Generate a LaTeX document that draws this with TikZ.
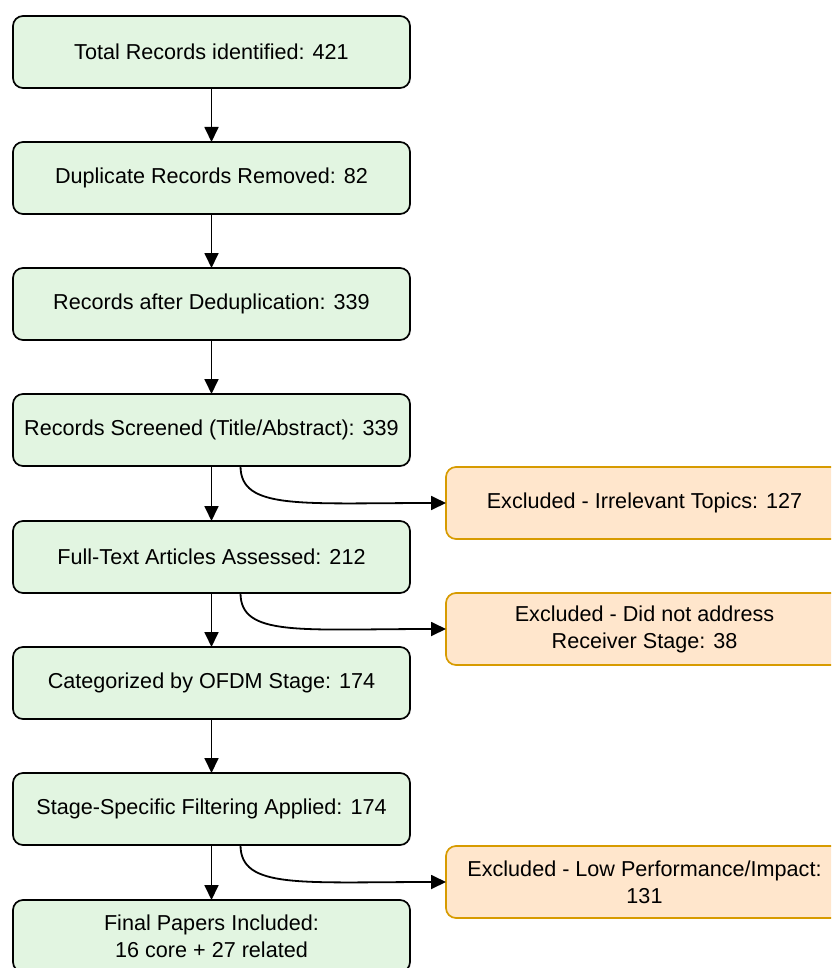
\documentclass[tikz,border=0pt]{standalone}
\usepackage{fontspec}
\setmainfont{Liberation Sans}
\usetikzlibrary{arrows.meta}
\definecolor{gfill}{HTML}{E2F5E1}
\definecolor{ofill}{HTML}{FFE6CC}
\definecolor{ostroke}{HTML}{D79B00}
\tikzset{
  box/.style={draw=black, fill=gfill, line width=1.7pt, rounded corners=10pt,
    minimum width=397pt, minimum height=72pt, align=center, outer sep=0pt,
    font=\fontsize{21.6pt}{27pt}\selectfont, inner sep=0pt},
  exbox/.style={box, draw=ostroke, fill=ofill},
  arr/.style={line width=1.8pt, -{Triangle[length=15pt,width=14pt]}}
}
\begin{document}
\begin{tikzpicture}[x=1pt,y=-1pt]
\useasboundingbox (0,0) rectangle (831,968);
\clip (0,0) rectangle (831,968);
\node[box] (b1) at (211.5,52) {Total Records identified: 421};
\node[box] (b2) at (211.5,178) {Duplicate Records Removed: 82};
\node[box] (b3) at (211.5,304) {Records after Deduplication: 339};
\node[box] (b4) at (211.5,430) {Records Screened (Title/Abstract): 339};
\node[box] (b5) at (211.5,557) {Full-Text Articles Assessed: 212};
\node[box] (b6) at (211.5,683) {Categorized by OFDM Stage: 174};
\node[box] (b7) at (211.5,809) {Stage-Specific Filtering Applied: 174};
\node[box] (b8) at (211.5,936) {Final Papers Included:\\16 core + 27 related};
\node[exbox] (e1) at (644.5,503) {Excluded - Irrelevant Topics: 127};
\node[exbox] (e2) at (644.5,629) {Excluded - Did not address\\Receiver Stage: 38};
\node[exbox] (e3) at (644.5,882) {Excluded - Low Performance/Impact:\\131};
\draw[arr] (b1) -- (b2);
\draw[arr] (b2) -- (b3);
\draw[arr] (b3) -- (b4);
\draw[arr] (b4) -- (b5);
\draw[arr] (b5) -- (b6);
\draw[arr] (b6) -- (b7);
\draw[arr] (b7) -- (b8);
\draw[arr] ([xshift=29pt]b4.south) .. controls +(0,44) and +(-146,0) .. (e1.west);
\draw[arr] ([xshift=29pt]b5.south) .. controls +(0,44) and +(-146,0) .. (e2.west);
\draw[arr] ([xshift=29pt]b7.south) .. controls +(0,44) and +(-146,0) .. (e3.west);
\end{tikzpicture}
\end{document}
